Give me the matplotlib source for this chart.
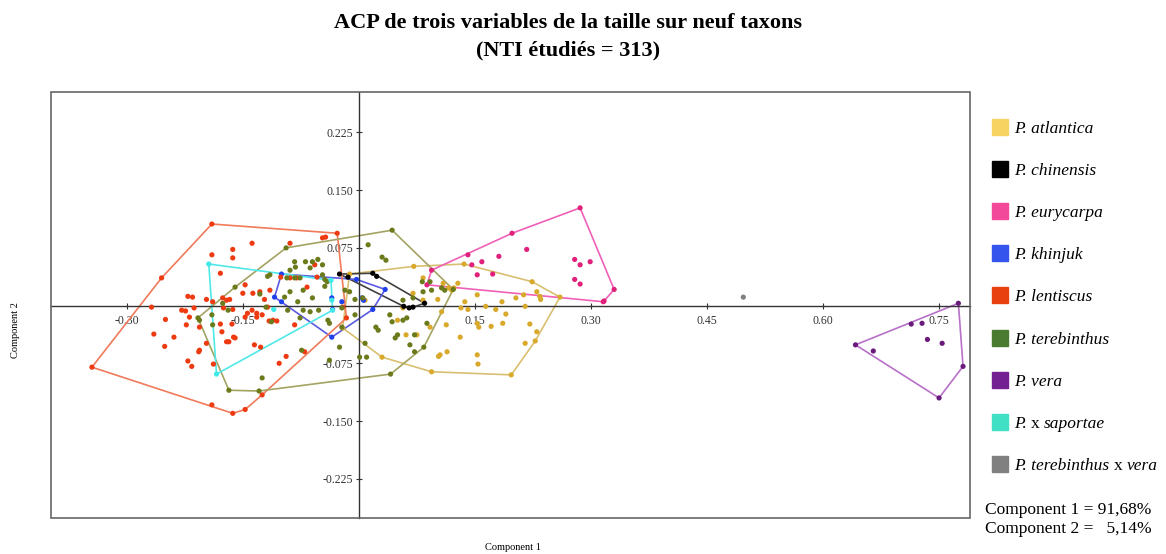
import numpy as np
import matplotlib
matplotlib.use("Agg")
import matplotlib.pyplot as plt
from matplotlib.lines import Line2D
from matplotlib.patches import Rectangle

plt.rcParams['font.family'] = ['Liberation Serif', 'DejaVu Serif']

# scores ACP (composante 1, composante 2) par taxon
atl_x = [-0.021, -0.012, 0.071, 0.136, 0.224, 0.260, 0.197, 0.094, 0.030,
         0.230, 0.234, 0.235, 0.213, 0.203, 0.185, 0.153, 0.128, 0.116, 0.123,
         0.102, 0.107, 0.132, 0.141, 0.164, 0.177, 0.190, 0.153, 0.155, 0.171,
         0.186, 0.215, 0.221, 0.230, 0.228, 0.215, 0.113, 0.131, 0.061, 0.103,
         0.114, 0.153, 0.154, 0.083, 0.109, 0.070, 0.083, 0.120, 0.137, 0.092,
         0.075, 0.105, 0.050, 0.057, 0.008]
atl_y = [-0.029, 0.041, 0.051, 0.054, 0.031, 0.011, -0.090, -0.086, -0.067,
         0.018, 0.012, 0.008, 0.014, 0.010, 0.005, 0.014, 0.029, 0.023, 0.023,
         0.008, -0.008, -0.003, -0.005, -0.001, -0.005, -0.011, -0.023, -0.028, -0.027,
         -0.023, -0.001, -0.024, -0.034, -0.046, -0.049, -0.025, -0.041, -0.038, -0.066,
         -0.060, -0.064, -0.076, 0.036, 0.029, 0.016, 0.007, 0.020, 0.005, -0.028,
         -0.038, -0.064, -0.019, -0.003, 0.007]

chi_x = [-0.025, -0.014, 0.018, 0.023, 0.085, 0.070, 0.065, 0.058]
chi_y = [0.041, 0.037, 0.042, 0.038, 0.003, -0.002, -0.003, -0.001]

eur_x = [0.286, 0.330, 0.316, 0.088, 0.094, 0.141, 0.198, 0.181, 0.217, 0.159,
         0.146, 0.153, 0.173, 0.279, 0.286, 0.299, 0.279, 0.286, 0.317]
eur_y = [0.127, 0.021, 0.005, 0.027, 0.046, 0.066, 0.094, 0.064, 0.073, 0.057,
         0.053, 0.040, 0.041, 0.060, 0.053, 0.057, 0.034, 0.028, 0.006]

khi_x = [-0.100, -0.109, -0.100, -0.035, 0.018, 0.034, -0.003, -0.022, -0.035,
         -0.034, 0.004, 0.006]
khi_y = [0.041, 0.011, 0.005, -0.041, -0.005, 0.021, 0.034, 0.005, 0.010,
         -0.005, 0.010, 0.007]

len_x = [-0.190, -0.028, -0.016, -0.125, -0.147, -0.163, -0.190, -0.345, -0.255,
         -0.268, -0.250, -0.265, -0.239, -0.251, -0.221, -0.215, -0.229, -0.224,
         -0.219, -0.213, -0.223, -0.206, -0.197, -0.190, -0.163, -0.163, -0.138,
         -0.089, -0.179, -0.176, -0.171, -0.167, -0.175, -0.163, -0.179, -0.164,
         -0.177, -0.197, -0.207, -0.221, -0.216, -0.188, -0.168, -0.162, -0.150,
         -0.137, -0.128, -0.138, -0.132, -0.125, -0.132, -0.147, -0.135, -0.127,
         -0.103, -0.094, -0.083, -0.122, -0.115, -0.111, -0.118, -0.101, -0.089,
         -0.080, -0.067, -0.054, -0.057, -0.047, -0.043, -0.070, -0.021, -0.189,
         -0.144, -0.116, -0.106, -0.160, -0.171, -0.206, -0.147]
len_y = [0.106, 0.094, -0.016, -0.116, -0.135, -0.140, -0.129, -0.080, 0.036,
         -0.002, -0.018, -0.037, -0.041, -0.053, 0.012, 0.011, -0.006, -0.007,
         -0.015, -0.003, -0.025, -0.028, 0.008, 0.066, 0.073, 0.062, 0.081,
         0.081, 0.042, 0.010, 0.007, 0.008, -0.003, -0.005, -0.024, -0.024,
         -0.034, -0.049, -0.060, -0.072, -0.079, -0.076, -0.047, -0.041, 0.016,
         0.016, 0.018, -0.006, -0.010, -0.012, -0.015, -0.015, -0.051, -0.054,
         -0.075, -0.066, -0.025, 0.008, 0.020, -0.019, -0.002, 0.037, 0.036,
         0.036, 0.024, 0.037, 0.053, 0.088, 0.089, -0.060, -0.002, 0.005,
         -0.010, -0.020, -0.020, -0.042, -0.047, -0.058, 0.027]

ter_x = [-0.094, 0.043, 0.122, 0.041, -0.129, -0.168, -0.208,
         0.012, 0.030, 0.035, -0.083, -0.069, -0.060, -0.053, -0.047, -0.082, -0.063,
         -0.093, -0.083, -0.076, -0.047, -0.044, -0.041, -0.044, -0.018, -0.012,
         -0.089, -0.072, -0.060, -0.079, -0.072, -0.063, -0.052, -0.022, -0.092,
         -0.040, -0.005, -0.022, -0.074, -0.025, 0.001, 0.040, 0.043, 0.022, 0.025,
         0.047, -0.096, -0.005, 0.005, -0.115, -0.089, -0.113, -0.076, -0.038, 0.057,
         0.008, 0.010, -0.038, -0.125, 0.072, 0.050, 0.082, 0.094, 0.083, 0.057,
         0.070, 0.092, 0.107, 0.111, 0.062, 0.088, 0.072, 0.084, 0.066, -0.160,
         -0.190, -0.189, -0.118, -0.176, -0.169, -0.206, -0.128, -0.120]
ter_y = [0.075, 0.098, 0.021, -0.089, -0.111, -0.110, -0.016,
         0.079, 0.063, 0.059, 0.057, 0.057, 0.057, 0.060, 0.053, 0.050, 0.049,
         0.036, 0.036, 0.036, 0.040, 0.034, 0.031, 0.025, 0.020, 0.018,
         0.018, 0.020, 0.010, 0.005, -0.006, -0.008, -0.006, -0.003, -0.006,
         -0.019, -0.012, -0.028, -0.058, -0.054, -0.067, -0.012, -0.021, -0.028, -0.032,
         -0.042, 0.011, 0.008, 0.010, 0.040, 0.046, -0.021, -0.016, -0.023, -0.019,
         -0.049, -0.067, -0.071, -0.094, -0.060, -0.038, 0.031, 0.020, 0.018, 0.007,
         0.010, 0.031, 0.023, 0.020, -0.016, -0.023, -0.038, -0.054, -0.051, 0.024,
         -0.012, -0.025, 0.038, 0.003, -0.006, -0.019, 0.015, -0.002]

ver_x = [0.775, 0.781, 0.750, 0.642, 0.665, 0.714, 0.728, 0.735, 0.754]
ver_y = [0.003, -0.079, -0.120, -0.051, -0.059, -0.024, -0.023, -0.044, -0.049]

sap_x = [-0.194, -0.184, -0.036, -0.034, -0.035, -0.110]
sap_y = [0.054, -0.089, 0.033, -0.006, 0.007, -0.005]

tv_x = [0.497]
tv_y = [0.011]

# noms en morceaux : (texte, italique ?) ; le « x » des hybrides reste romain
noms = [[('P. atlantica', True)], [('P. chinensis', True)],
        [('P. eurycarpa', True)], [('P. khinjuk', True)],
        [('P. lentiscus', True)], [('P. terebinthus', True)], [('P. vera', True)],
        [('P.', True), ('x', False), ('saportae', True)],
        [('P. terebinthus', True), ('x', False), ('vera', True)]]
xs = [atl_x, chi_x, eur_x, khi_x, len_x, ter_x, ver_x, sap_x, tv_x]
ys = [atl_y, chi_y, eur_y, khi_y, len_y, ter_y, ver_y, sap_y, tv_y]
c_pts = ['#d9a92c', '#000000', '#e0207a', '#2040ee', '#ee3a10', '#6b7a1a',
         '#6a1a7a', '#40e8e8', '#808080']
c_hull = ['#d9bf70', '#404040', '#f060b8', '#5a5ae0', '#f07a5a', '#a3a362',
          '#b870c8', '#50e8e8', '#909090']
c_leg = ['#f7d461', '#000000', '#f2499a', '#3554ee', '#e8400f', '#4b7b30',
         '#722092', '#40e0c4', '#808080']


def enveloppe(px, py):
    # enveloppe convexe (chaîne monotone)
    p = sorted(set(zip(px, py)))
    if len(p) < 3:
        return p

    def cross(o, a, b):
        return (a[0]-o[0])*(b[1]-o[1]) - (a[1]-o[1])*(b[0]-o[0])
    lo, up = [], []
    for q in p:
        while len(lo) >= 2 and cross(lo[-2], lo[-1], q) <= 0:
            lo.pop()
        lo.append(q)
    for q in reversed(p):
        while len(up) >= 2 and cross(up[-2], up[-1], q) <= 0:
            up.pop()
        up.append(q)
    return lo[:-1] + up[:-1]


fig = plt.figure(figsize=(11.66, 5.54), dpi=100)
ax = fig.add_axes([0.0437, 0.065, 0.7882, 0.769])

for x, y, cp, ch in zip(xs, ys, c_pts, c_hull):
    h = enveloppe(x, y)
    if len(h) >= 3:
        hx = [q[0] for q in h] + [h[0][0]]
        hy = [q[1] for q in h] + [h[0][1]]
        ax.plot(hx, hy, color=ch, lw=1.2, zorder=2)
    ax.scatter(x, y, s=14, color=cp, edgecolors='none', zorder=3)

ax.set_xlim(-0.398, 0.790)
ax.set_ylim(-0.276, 0.2776)

# axes passant par l'origine
ax.spines['left'].set_position('zero')
ax.spines['bottom'].set_position('zero')
ax.spines['top'].set_visible(False)
ax.spines['right'].set_visible(False)
for s in ('left', 'bottom'):
    ax.spines[s].set_color('#333333')
    ax.spines[s].set_linewidth(1.0)
ax.add_patch(Rectangle((0, 0), 1, 1, transform=ax.transAxes, fill=False,
                       ec='#666666', lw=1.2, clip_on=False, zorder=5))

ax.set_xticks([-0.30, -0.15, 0.15, 0.30, 0.45, 0.60, 0.75])
ax.set_xticklabels(['-0.30', '-0.15', '0.15', '0.30', '0.45', '0.60', '0.75'])
ax.set_yticks([-0.225, -0.150, -0.075, 0.075, 0.150, 0.225])
ax.set_yticklabels(['-0.225', '-0.150', '-0.075', '0.075', '0.150', '0.225'])
ax.tick_params(direction='inout', length=5, width=0.8, color='#333333',
               labelsize=8.5, labelcolor='#333333', pad=4)
ax.tick_params(axis='y', pad=1.5)

fig.text(0.44, 0.004, 'Component 1', ha='center', va='bottom', fontsize=7.5)
fig.text(0.013, 0.405, 'Component 2', ha='center', va='center', rotation=90,
         fontsize=7.5)

fig.text(0.487, 0.958, 'ACP de trois variables de la taille sur neuf taxons',
         ha='center', va='center', fontsize=16, fontweight='bold')
fig.text(0.487, 0.909, '(NTI étudiés = 313)', ha='center', va='center',
         fontsize=16, fontweight='bold')

# légende : premier morceau dans la légende, la suite enchaînée derrière
poignees = [Line2D([], [], ls='', marker='s', markersize=11.5, color=c,
                   markeredgecolor=c) for c in c_leg]
leg = fig.legend(poignees, [n[0][0] for n in noms], loc='upper left',
                 bbox_to_anchor=(0.844, 0.795), frameon=False, fontsize=12.5,
                 labelspacing=1.5, handlelength=1.0, handletextpad=0.35,
                 borderaxespad=0)
for t in leg.get_texts():
    t.set_fontstyle('italic')

fig.canvas.draw()
rend = fig.canvas.get_renderer()
W, H = fig.bbox.width, fig.bbox.height
ecart = 4.0  # espace entre morceaux, en pixels
for t, n in zip(leg.get_texts(), noms):
    bb = t.get_window_extent(rend)
    x1, y0 = bb.x1, bb.y0
    for morceau, ital in n[1:]:
        nt = fig.text((x1 + ecart) / W, y0 / H, morceau, ha='left', va='bottom',
                      fontsize=12.5, fontstyle='italic' if ital else 'normal')
        x1 = nt.get_window_extent(rend).x1

fig.text(0.845, 0.079, 'Component 1 = 91,68%', ha='left', va='center', fontsize=12.5)
fig.text(0.845, 0.046, 'Component 2 =   5,14%', ha='left', va='center', fontsize=12.5)

fig.savefig('out.png', dpi=100)
